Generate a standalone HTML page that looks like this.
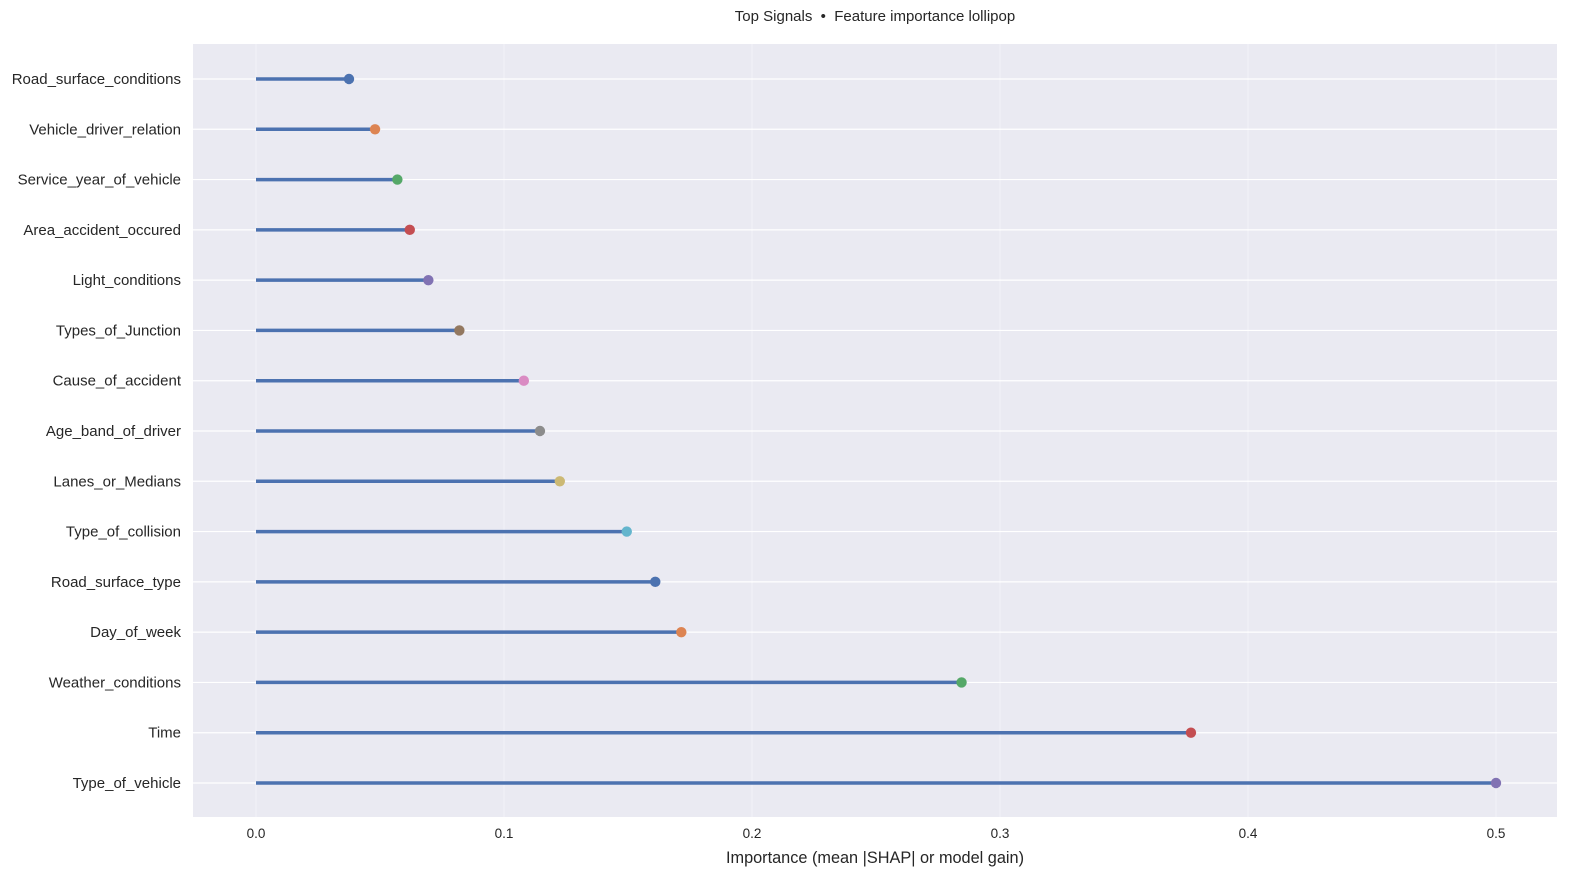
<!DOCTYPE html>
<html><head><meta charset="utf-8"><style>
body{margin:0;background:#fff;}
svg text{font-family:"Liberation Sans",Arial,sans-serif;fill:#262626;}
</style></head><body>
<svg id="chart" width="1584" height="884">
<text x="875" y="21" font-size="15" text-anchor="middle" style="white-space:pre">Top Signals  •  Feature importance lollipop</text>
<rect x="193" y="44" width="1364" height="773" fill="#EAEAF2"/>
<g id="grid"></g><g id="marks"></g><g id="labels"></g>
<text x="875" y="863" font-size="16.3" text-anchor="middle">Importance (mean |SHAP| or model gain)</text>
</svg>
<script>
const categories=["Road_surface_conditions","Vehicle_driver_relation","Service_year_of_vehicle","Area_accident_occured","Light_conditions","Types_of_Junction","Cause_of_accident","Age_band_of_driver","Lanes_or_Medians","Type_of_collision","Road_surface_type","Day_of_week","Weather_conditions","Time","Type_of_vehicle"];
const values=[0.0375,0.048,0.057,0.062,0.0695,0.082,0.108,0.1145,0.1225,0.1495,0.161,0.1715,0.2845,0.377,0.5];
const ticks=[0,0.1,0.2,0.3,0.4,0.5];
const tickLabels=["0.0","0.1","0.2","0.3","0.4","0.5"];
const colors=["#4C72B0","#DD8452","#55A868","#C44E52","#8172B3","#937860","#DA8BC3","#8C8C8C","#CCB974","#64B5CD"];
const NS="http://www.w3.org/2000/svg";
const xS=v=>256+v*2480;
const yS=i=>79+i*(704/(categories.length-1));
function mk(p,t,a){const e=document.createElementNS(NS,t);for(const k in a)e.setAttribute(k,a[k]);p.appendChild(e);return e;}
const grid=document.getElementById('grid'),marks=document.getElementById('marks'),labels=document.getElementById('labels');
ticks.forEach((t,i)=>{
 const l=mk(grid,'line',{x1:xS(t),x2:xS(t),y1:44,y2:817,stroke:'#f3f3f8','stroke-width':1});
 
 
 const tx=mk(labels,'text',{x:xS(t),y:838,'font-size':13.5,'text-anchor':'middle'});
 tx.textContent=tickLabels[i];
 
 
});
categories.forEach((c,i)=>{
 const y=yS(i);
 const g=mk(grid,'line',{x1:193,x2:1557,y1:y,y2:y,stroke:'#fff','stroke-width':1.2});
 
 
 const st=mk(marks,'line',{x1:xS(0),x2:xS(values[i]),y1:y,y2:y,stroke:'#4C72B0','stroke-width':3.5});
 
 
 const d=mk(marks,'circle',{cx:xS(values[i]),cy:y,r:5.2,fill:colors[i%10]});
 
 
 const tx=mk(labels,'text',{x:181,y:y+5,'font-size':15,'text-anchor':'end'});
 tx.textContent=c;
 
 
});
</script>
</body></html>
